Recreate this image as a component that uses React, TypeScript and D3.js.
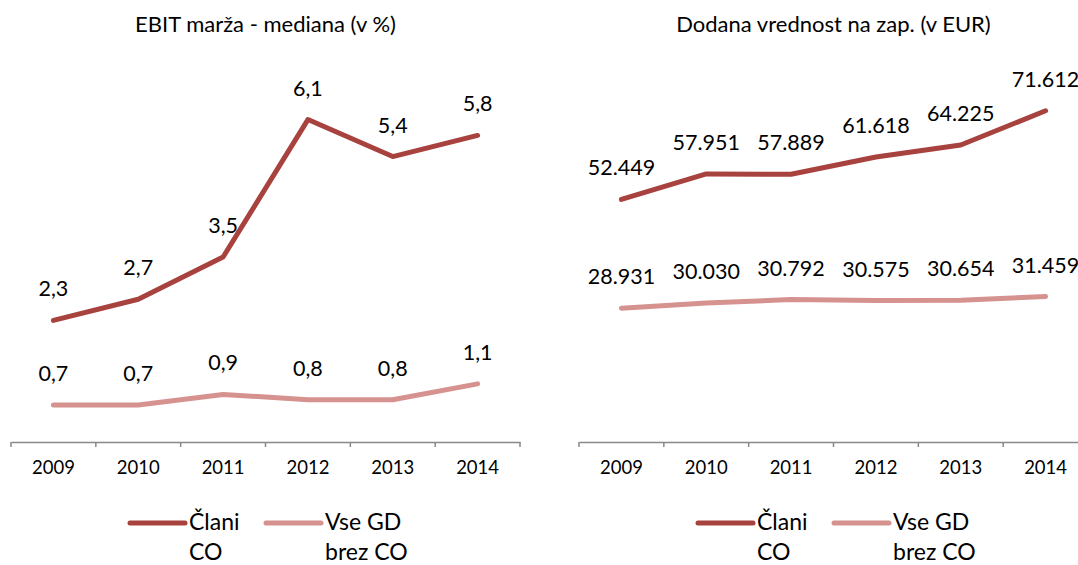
import React, { useEffect, useRef } from "react";
import * as d3 from "d3";

const years = ["2009", "2010", "2011", "2012", "2013", "2014"];

const ebitClani = [2.3, 2.7, 3.5, 6.1, 5.4, 5.8];
const ebitVse = [0.7, 0.7, 0.9, 0.8, 0.8, 1.1];

const dodanaClani = [52449, 57951, 57889, 61618, 64225, 71612];
const dodanaVse = [28931, 30030, 30792, 30575, 30654, 31459];

const seriesNames = [["Člani", "CO"], ["Vse GD", "brez CO"]];

const DARK = "#A8423E";
const LIGHT = "#D6928F";
const FONT = "Lato, 'Open Sans', sans-serif";

export default function App() {
  const ref = useRef<SVGSVGElement>(null);

  useEffect(() => {
    const svg = d3.select(ref.current);
    svg.selectAll("*").remove();

    const top = 72;
    const bottom = 442;

    const drawPanel = (opts: {
      x0: number;
      x1: number;
      title: string;
      max: number;
      a: number[];
      b: number[];
      fmt: (v: number) => string;
      legendX: number;
    }) => {
      const g = svg.append("g");

      const x = d3.scaleBand().domain(years).range([opts.x0, opts.x1]);
      const y = d3.scaleLinear().domain([0, opts.max]).range([bottom, top]);

      // TITLE
      g.append("text")
        .attr("x", (opts.x0 + opts.x1) / 2)
        .attr("y", 32)
        .attr("text-anchor", "middle")
        .attr("font-size", "22px")
        .attr("fill", "#000")
        .text(opts.title);

      // AXIS
      const axis = g
        .append("g")
        .attr("transform", `translate(0,${bottom})`)
        .call(d3.axisBottom(x).tickSize(0).tickPadding(19));
      axis.select(".domain").attr("stroke", "#898989").attr("stroke-width", 1.5);
      axis.selectAll("text").attr("font-size", "18.5px").attr("font-family", FONT).attr("fill", "#000");

      const edges = [...years.map(d => x(d) as number), opts.x1];
      g.selectAll(".tick-edge")
        .data(edges)
        .enter()
        .append("line")
        .attr("x1", d => d)
        .attr("x2", d => d)
        .attr("y1", bottom)
        .attr("y2", bottom + 5)
        .attr("stroke", "#898989")
        .attr("stroke-width", 1.5);

      const line = d3
        .line<number>()
        .x((_, i) => (x(years[i]) as number) + x.bandwidth() / 2)
        .y(d => y(d));

      [
        { data: opts.b, color: LIGHT },
        { data: opts.a, color: DARK },
      ].forEach(s => {
        g.append("path")
          .datum(s.data)
          .attr("d", line)
          .attr("fill", "none")
          .attr("stroke", s.color)
          .attr("stroke-width", 5)
          .attr("stroke-linecap", "round")
          .attr("stroke-linejoin", "round");

        g.selectAll(null)
          .data(s.data)
          .enter()
          .append("text")
          .attr("x", (_, i) => (x(years[i]) as number) + x.bandwidth() / 2)
          .attr("y", d => y(d) - 24)
          .attr("text-anchor", "middle")
          .attr("font-size", "21.5px")
          .attr("fill", "#000")
          .text(d => opts.fmt(d));
      });

      // LEGEND
      const legendItems = [
        { color: DARK, names: seriesNames[0], dx: 0 },
        { color: LIGHT, names: seriesNames[1], dx: 136 },
      ];
      legendItems.forEach(it => {
        const lx = opts.legendX + it.dx;
        g.append("line")
          .attr("x1", lx)
          .attr("x2", lx + 55)
          .attr("y1", 523)
          .attr("y2", 523)
          .attr("stroke", it.color)
          .attr("stroke-width", 5)
          .attr("stroke-linecap", "round");
        it.names.forEach((n, i) => {
          g.append("text")
            .attr("x", lx + 59)
            .attr("y", 530 + i * 30)
            .attr("font-size", "23px")
            .attr("fill", "#000")
            .text(n);
        });
      });
    };

    const fmtComma = (v: number) => d3.format(".1f")(v).replace(".", ",");
    const fmtThousand = (v: number) => d3.format(",")(v).replace(",", ".");

    drawPanel({
      x0: 11,
      x1: 520,
      title: "EBIT marža - mediana (v %)",
      max: 7,
      a: ebitClani,
      b: ebitVse,
      fmt: fmtComma,
      legendX: 130,
    });

    drawPanel({
      x0: 579,
      x1: 1088,
      title: "Dodana vrednost na zap. (v EUR)",
      max: 80000,
      a: dodanaClani,
      b: dodanaVse,
      fmt: fmtThousand,
      legendX: 698,
    });
  }, []);

  return (
    <svg
      ref={ref}
      width={1078}
      height={565}
      style={{ position: "absolute", left: 0, top: 0, fontFamily: FONT, background: "#fff" }}
    />
  );
}
